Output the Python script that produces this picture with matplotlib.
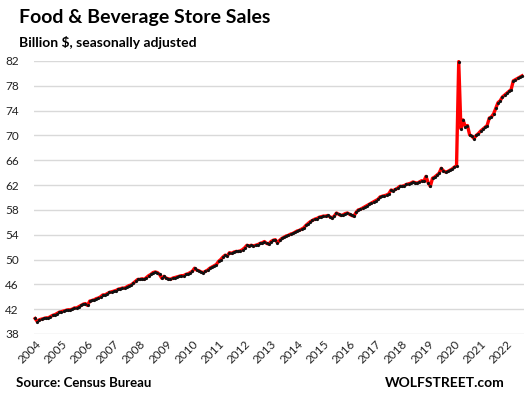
import matplotlib.pyplot as plt

# monthly sales, billion $, Jan 2004 .. Aug 2022
y2004 = [40.5, 40.0, 40.3, 40.4, 40.5, 40.6, 40.6, 40.8, 41.0, 41.1, 41.3, 41.5]
y2005 = [41.6, 41.7, 41.8, 41.9, 41.9, 42.0, 42.2, 42.2, 42.4, 42.6, 42.8, 42.9]
y2006 = [42.6, 43.3, 43.4, 43.5, 43.7, 43.8, 44.0, 44.3, 44.3, 44.5, 44.7, 44.8]
y2007 = [44.9, 45.0, 45.2, 45.3, 45.4, 45.4, 45.6, 45.8, 45.9, 46.2, 46.5, 46.8]
y2008 = [46.8, 46.9, 46.8, 47.1, 47.4, 47.6, 47.9, 48.0, 47.9, 47.6, 47.0, 47.3]
y2009 = [47.0, 46.9, 46.8, 47.0, 47.1, 47.2, 47.3, 47.4, 47.4, 47.6, 47.7, 47.9]
y2010 = [48.1, 48.6, 48.3, 48.2, 48.0, 47.9, 48.1, 48.3, 48.6, 48.8, 49.0, 49.2]
y2011 = [49.7, 50.0, 50.4, 50.7, 50.6, 51.1, 51.0, 51.2, 51.3, 51.3, 51.4, 51.6]
y2012 = [51.9, 52.3, 52.2, 52.3, 52.2, 52.3, 52.4, 52.6, 52.7, 52.9, 52.6, 52.5]
y2013 = [52.9, 53.1, 53.2, 52.7, 53.1, 53.4, 53.6, 53.8, 53.9, 54.1, 54.2, 54.4]
y2014 = [54.6, 54.7, 54.9, 55.1, 55.5, 55.8, 56.1, 56.3, 56.5, 56.6, 56.8, 56.9]
y2015 = [57.0, 57.0, 57.1, 56.9, 56.7, 57.0, 57.5, 57.3, 57.1, 57.2, 57.4, 57.5]
y2016 = [57.3, 57.1, 57.0, 57.6, 58.0, 58.1, 58.3, 58.5, 58.7, 58.9, 59.1, 59.3]
y2017 = [59.5, 59.7, 60.1, 60.2, 60.3, 60.4, 60.6, 61.2, 61.1, 61.3, 61.5, 61.8]
y2018 = [61.8, 61.9, 62.1, 62.2, 62.3, 62.5, 62.4, 62.3, 62.5, 62.7, 62.6, 63.4]
y2019 = [62.4, 61.8, 63.1, 63.3, 63.6, 63.9, 64.7, 64.3, 64.1, 64.2, 64.4, 64.6]
y2020 = [64.9, 65.1, 81.9, 71.1, 72.5, 71.4, 71.6, 70.1, 69.9, 69.5, 70.0, 70.3]
y2021 = [70.7, 71.0, 71.3, 71.6, 72.8, 73.0, 73.5, 74.4, 75.3, 75.6, 76.2, 76.5]
y2022 = [76.8, 77.1, 77.4, 78.8, 79.0, 79.2, 79.4, 79.6]

sales = (y2004 + y2005 + y2006 + y2007 + y2008 + y2009 + y2010 + y2011 + y2012
         + y2013 + y2014 + y2015 + y2016 + y2017 + y2018 + y2019 + y2020
         + y2021 + y2022)
years = list(range(2004, 2023))
y_ticks = [38, 42, 46, 50, 54, 58, 62, 66, 70, 74, 78, 82]

plt.rcParams["font.family"] = ["Lato", "DejaVu Sans"]

fig = plt.figure(figsize=(5.3, 3.97), dpi=100)
ax = fig.add_axes([0.0642, 0.1587, 0.9245, 0.6877])

months = list(range(len(sales)))
ax.plot(months, sales, color="#ff0000", lw=2.4, zorder=3, clip_on=False)
ax.plot(months, sales, ls="none", marker="o", ms=2.3, mew=0,
        color="#111111", zorder=4, clip_on=False)

ax.set_xlim(-0.5, 223.9)
ax.set_ylim(38, 82)
ax.set_yticks(y_ticks)
ax.set_xticks([12 * i for i in range(len(years))])
ax.set_xticklabels([str(y) for y in years], rotation=45, ha="right",
                   rotation_mode="anchor", fontsize=8.5, color="#222222")
ax.tick_params(axis="y", labelsize=8.5, labelcolor="#222222", length=0, pad=11)
ax.tick_params(axis="x", length=0, pad=3)
ax.grid(axis="y", color="#d9d9d9", lw=1)
ax.set_axisbelow(True)
for s in ax.spines.values():
    s.set_visible(False)

fig.text(0.036, 0.955, "Food & Beverage Store Sales", fontsize=14,
         fontweight="bold", va="center")
fig.text(0.036, 0.893, "Billion $, seasonally adjusted", fontsize=10,
         fontweight="bold", va="center")
fig.text(0.03, 0.035, "Source: Census Bureau", fontsize=9.5,
         fontweight="bold", va="center")
fig.text(0.953, 0.035, "WOLFSTREET.com", fontsize=10, fontweight="bold",
         va="center", ha="right")

fig.savefig("out.png", dpi=100)
